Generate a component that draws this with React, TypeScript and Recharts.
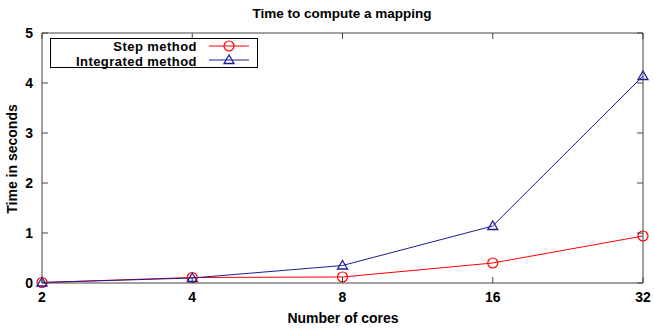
import React from 'react';
import { LineChart, Line, XAxis, YAxis, ReferenceArea, Legend } from 'recharts';

const cores = [2, 4, 8, 16, 32];
const stepTimes = [0.01, 0.11, 0.12, 0.4, 0.94];
const integratedTimes = [0.01, 0.1, 0.35, 1.14, 4.14];
const yTicks = [0, 1, 2, 3, 4, 5];
const titleText = 'Time to compute a mapping';
const xLabelText = 'Number of cores';
const yLabelText = 'Time in seconds';
const seriesNames = ['Step method', 'Integrated method'];

const data = cores.map((c, i) => ({ cores: c, step: stepTimes[i], integrated: integratedTimes[i] }));

const FONT = '"Liberation Sans", Arial, Helvetica, sans-serif';
const FS = 14;
const W = 654;
const H = 329;
const PL = 42;
const PR = 643;
const PT = 33;
const PB = 283;
const FRAME = '#444';
const RED = '#ff0000';
const BLUE = '#1c1c96';

const XTick = (props: any) => {
  const { x, payload } = props;
  return (
    <g>
      <line x1={x} x2={x} y1={PB} y2={PB - 6} stroke={FRAME} />
      <line x1={x} x2={x} y1={PT} y2={PT + 6} stroke={FRAME} />
      <text x={x} y={302} textAnchor="middle" fontFamily={FONT} fontWeight="bold" fontSize={FS} fill="#000">
        {payload.value}
      </text>
    </g>
  );
};

const YTick = (props: any) => {
  const { y, payload } = props;
  return (
    <g>
      <line x1={PL} x2={PL + 6} y1={y} y2={y} stroke={FRAME} />
      <line x1={PR} x2={PR - 6} y1={y} y2={y} stroke={FRAME} />
      <text x={33} y={y + 5} textAnchor="end" fontFamily={FONT} fontWeight="bold" fontSize={FS} fill="#000">
        {payload.value}
      </text>
    </g>
  );
};

const triPoints = (cx: number, cy: number) => `${cx},${cy - 5} ${cx - 5},${cy + 3.5} ${cx + 5},${cy + 3.5}`;

const Circle = (props: any) => {
  const { cx, cy } = props;
  if (cx == null || cy == null) return null;
  return <circle cx={cx} cy={cy} r={5} fill="none" stroke={RED} strokeWidth={1.2} />;
};

const Tri = (props: any) => {
  const { cx, cy } = props;
  if (cx == null || cy == null) return null;
  return <polygon points={triPoints(cx, cy)} fill="none" stroke={BLUE} strokeWidth={1.3} />;
};

const LegendBox = () => (
  <svg width={209} height={31} style={{ display: 'block' }}>
    <rect x={0.5} y={0.5} width={207} height={29} fill="#fff" stroke="#000" />
    <text x={147} y={12.5} textAnchor="end" fontFamily={FONT} fontWeight="bold" fontSize={13} letterSpacing={0.45} fill="#000">
      {seriesNames[0]}
    </text>
    <line x1={159} x2={199} y1={8} y2={8} stroke={RED} />
    <circle cx={179} cy={8} r={5} fill="none" stroke={RED} strokeWidth={1.2} />
    <text x={147} y={27.5} textAnchor="end" fontFamily={FONT} fontWeight="bold" fontSize={13} letterSpacing={0.45} fill="#000">
      {seriesNames[1]}
    </text>
    <line x1={159} x2={199} y1={22} y2={22} stroke={BLUE} />
    <polygon points={triPoints(179, 22)} fill="none" stroke={BLUE} strokeWidth={1.3} />
  </svg>
);

export default function App() {
  return (
    <div style={{ position: 'absolute', left: 0, top: 0, width: W, height: H, background: '#fff' }}>
      <LineChart
        width={W}
        height={H}
        data={data}
        margin={{ top: PT, right: W - PR, bottom: H - PB - 30, left: PL - 30 }}
      >
        <ReferenceArea x1={2} x2={32} y1={0} y2={5} fill="none" stroke={FRAME} strokeWidth={1} ifOverflow="visible" />
        <XAxis
          dataKey="cores"
          type="number"
          scale="log"
          domain={[2, 32]}
          ticks={cores}
          height={30}
          axisLine={false}
          tickLine={false}
          tick={<XTick />}
          interval={0}
        />
        <YAxis
          type="number"
          domain={[0, 5]}
          ticks={yTicks}
          width={30}
          axisLine={false}
          tickLine={false}
          tick={<YTick />}
          interval={0}
        />
        <Legend
          layout="vertical"
          verticalAlign="middle"
          align="center"
          content={() => <LegendBox />}
          wrapperStyle={{ position: 'absolute', left: 50, top: 38, width: 209, height: 31 }}
        />
        <Line
          dataKey="step"
          name={seriesNames[0]}
          stroke={RED}
          strokeWidth={1}
          dot={<Circle />}
          isAnimationActive={false}
          type="linear"
        />
        <Line
          dataKey="integrated"
          name={seriesNames[1]}
          stroke={BLUE}
          strokeWidth={1}
          dot={<Tri />}
          isAnimationActive={false}
          type="linear"
        />
      </LineChart>
      <svg
        width={W}
        height={H}
        style={{ position: 'absolute', left: 0, top: 0, pointerEvents: 'none' }}
      >
        <text x={342} y={18} textAnchor="middle" fontFamily={FONT} fontWeight="bold" fontSize={13.5} fill="#000">
          {titleText}
        </text>
        <text x={343} y={323} textAnchor="middle" fontFamily={FONT} fontWeight="bold" fontSize={FS} fill="#000">
          {xLabelText}
        </text>
        <text
          x={17}
          y={159}
          textAnchor="middle"
          fontFamily={FONT}
          fontWeight="bold"
          fontSize={FS}
          fill="#000"
          transform="rotate(-90 17 159)"
        >
          {yLabelText}
        </text>
      </svg>
    </div>
  );
}
